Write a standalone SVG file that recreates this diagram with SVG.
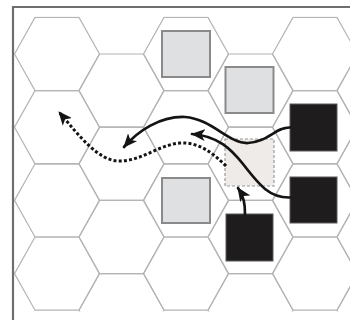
<svg xmlns="http://www.w3.org/2000/svg" xmlns:xlink="http://www.w3.org/1999/xlink" width="350" height="320" viewBox="0 0 350 320">
  <style>
    .grid use { fill: none; stroke: #b4b4b4; stroke-width: 1.2; }
    .light { fill: #dfe0e2; stroke: #8a8a8a; stroke-width: 2; }
    .dark { fill: #1f1c1d; stroke: #5a5a5a; stroke-width: 1; }
    .target { fill: #efebe9; stroke: #9a9a9a; stroke-width: 1.2; stroke-dasharray: 3 2; }
    .conn { fill: none; stroke: #141414; stroke-width: 2.7; stroke-linecap: round; }
    .dotted { stroke-width: 3; stroke-dasharray: 3 2.2; stroke-linecap: butt; }
    .frame { fill: none; stroke: #6e6e6e; stroke-width: 2.2; }
  </style>
  <defs>
    <polygon id="hex" points="-42.5,0 -22,-36.6 22,-36.6 42.5,0 22,36.6 -22,36.6"/>
    <clipPath id="gridclip"><rect x="14" y="16.5" width="340" height="295"/></clipPath>
    <marker id="ah" viewBox="0 0 14 12" refX="13" refY="6" markerWidth="14" markerHeight="12" markerUnits="userSpaceOnUse" orient="auto">
      <path d="M0,0 L14,6 L0,12 L3.5,6 Z" fill="#141414"/>
    </marker>
  </defs>
  <rect width="350" height="320" fill="#ffffff"/>
  <g id="grid" class="grid" clip-path="url(#gridclip)">
    <use href="#hex" x="57" y="54"/><use href="#hex" x="57" y="127.2"/><use href="#hex" x="57" y="200.4"/><use href="#hex" x="57" y="273.6"/>
    <use href="#hex" x="121.5" y="90.6"/><use href="#hex" x="121.5" y="163.8"/><use href="#hex" x="121.5" y="237"/><use href="#hex" x="121.5" y="310.2"/>
    <use href="#hex" x="186" y="54"/><use href="#hex" x="186" y="127.2"/><use href="#hex" x="186" y="200.4"/><use href="#hex" x="186" y="273.6"/>
    <use href="#hex" x="250.5" y="90.6"/><use href="#hex" x="250.5" y="163.8"/><use href="#hex" x="250.5" y="237"/><use href="#hex" x="250.5" y="310.2"/>
    <use href="#hex" x="315" y="54"/><use href="#hex" x="315" y="127.2"/><use href="#hex" x="315" y="200.4"/><use href="#hex" x="315" y="273.6"/>
    <use href="#hex" x="379.5" y="90.6"/><use href="#hex" x="379.5" y="163.8"/><use href="#hex" x="379.5" y="237"/><use href="#hex" x="379.5" y="310.2"/>
  </g>
  <path class="frame" d="M13,320 V7 H350"/>
  <g id="light-1"><rect class="light" x="162" y="31" width="48" height="46"/></g>
  <g id="light-2"><rect class="light" x="225.5" y="67" width="48" height="46"/></g>
  <g id="light-3"><rect class="light" x="162" y="178" width="48" height="45"/></g>
  <g id="target"><rect class="target" x="225" y="139" width="49" height="47"/></g>
  <g id="dark-1"><rect class="dark" x="290" y="104" width="47" height="47"/></g>
  <g id="dark-2"><rect class="dark" x="290" y="177" width="47" height="46"/></g>
  <g id="dark-3"><rect class="dark" x="226" y="214" width="47" height="47"/></g>
  <g id="connectors">
    <path class="conn" d="M290,127.5 C276,127 268,142 248,143 C229,144 212,119 185,117 C160,116 138,131 124,147" marker-end="url(#ah)"/>
    <path class="conn" d="M290,197.5 C270,198 260,186 243,164 C231,149 218,136 192,134" marker-end="url(#ah)"/>
    <path class="conn" d="M245,214 C245,204 244,197 238,188" marker-end="url(#ah)"/>
    <path class="conn dotted" d="M226,166 C212,152 198,142 180,143 C158,145 140,162 118,161 C98,160 80,137 59,112" marker-end="url(#ah)"/>
  </g>
</svg>
